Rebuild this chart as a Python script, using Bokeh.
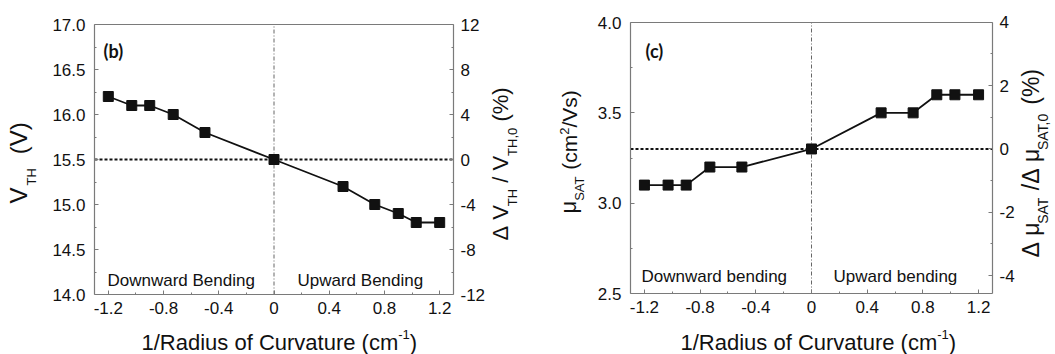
import numpy as np
from bokeh.plotting import figure
from bokeh.models import Range1d, LinearAxis, Label, FixedTicker
from bokeh.layouts import row
from bokeh.embed import file_html
from bokeh.resources import INLINE

# ---------------- data ----------------
curvature = [-1.2, -1.03, -0.9, -0.73, -0.5, 0.0, 0.5, 0.73, 0.9, 1.03, 1.2]
vth = [16.2, 16.1, 16.1, 16.0, 15.8, 15.5, 15.2, 15.0, 14.9, 14.8, 14.8]
mu_sat = [3.1, 3.1, 3.1, 3.2, 3.2, 3.3, 3.5, 3.5, 3.6, 3.6, 3.6]

vth_ref = 15.5          # V_TH,0
mu_ref = 3.3            # mu_SAT,0
dvth_per_volt = 8.0     # % of right axis per V of left axis
dmu_per_unit = 5.705    # % of right axis per cm2/Vs of left axis

x_lim = (-1.3, 1.3)
vth_lim = (14.0, 17.0)
mu_lim = (2.5, 4.0)

x_ticks = [-1.2, -0.8, -0.4, 0.0, 0.4, 0.8, 1.2]
x_tick_labels = ["-1.2", "-0.8", "-0.4", "0", "0.4", "0.8", "1.2"]
vth_ticks = [14.0, 14.5, 15.0, 15.5, 16.0, 16.5, 17.0]
vth_tick_labels = ["14.0", "14.5", "15.0", "15.5", "16.0", "16.5", "17.0"]
dvth_ticks = [-12, -8, -4, 0, 4, 8, 12]
dvth_tick_labels = ["-12", "-8", "-4", "0", "4", "8", "12"]
mu_ticks = [2.5, 3.0, 3.5, 4.0]
mu_tick_labels = ["2.5", "3.0", "3.5", "4.0"]
dmu_ticks = [-4, -2, 0, 2, 4]
dmu_tick_labels = ["-4", "-2", "0", "2", "4"]

FONT = "Liberation Sans"
AXIS_COLOR = "#7a7a7a"
INK = "#111111"
NB = "\u00a0"

# Arial / Liberation Sans advance widths (per 1000 em)
CW = {' ': 278, NB: 278, '(': 333, ')': 333, '%': 889, '/': 278, ',': 278,
      '-': 333, 'A': 667, 'S': 667, 'T': 611, 'H': 722, 'V': 667, 'R': 722,
      'C': 722, 'Δ': 612, 'μ': 576, 'c': 500, 'm': 833, 's': 500, 'a': 556,
      'd': 556, 'i': 222, 'u': 556, 'o': 556, 'f': 278, 'r': 333, 'v': 500,
      't': 278, 'e': 556}


def text_width(s, size):
    return sum(CW.get(ch, 556) for ch in s) / 1000.0 * size


def mids(v):
    v = np.asarray(v, dtype=float)
    return list((v[:-1] + v[1:]) / 2.0)


def style_axis(ax, standoff):
    ax.axis_line_color = AXIS_COLOR
    ax.axis_line_width = 1.2
    ax.major_tick_line_color = AXIS_COLOR
    ax.minor_tick_line_color = AXIS_COLOR
    ax.major_tick_in = 4
    ax.major_tick_out = 0
    ax.minor_tick_in = 2
    ax.minor_tick_out = 0
    ax.major_label_text_font = FONT
    ax.major_label_text_font_size = "17px"
    ax.major_label_text_color = INK
    ax.major_label_standoff = standoff


def make_panel(geo, y_vals, y_lim, y_ticks, y_labels, r_ticks, r_labels, ref, scale):
    """geo: canvas size and where the axes box sits on the canvas (pixels)."""
    fw, fh, L, R, T, B = geo["w"], geo["h"], geo["L"], geo["R"], geo["T"], geo["B"]
    xu = (x_lim[1] - x_lim[0]) / (R - L)
    yu = (y_lim[1] - y_lim[0]) / (B - T)
    xr = Range1d(x_lim[0] - L * xu, x_lim[0] + (fw - L) * xu)
    yr = Range1d(y_lim[1] - (fh - T) * yu, y_lim[1] + T * yu)
    geo["xr"], geo["yr"] = (xr.start, xr.end), (yr.start, yr.end)

    p = figure(width=fw, height=fh, frame_width=fw, frame_height=fh,
               x_range=xr, y_range=yr, x_axis_type=None, y_axis_type=None,
               output_backend="svg", toolbar_location=None, title=None,
               min_border=0, min_border_left=0, min_border_right=0,
               min_border_top=0, min_border_bottom=0)
    p.grid.visible = False
    p.outline_line_color = None
    p.background_fill_color = "white"
    p.border_fill_color = "white"

    pct = lambda v: (v - ref) * scale
    p.extra_y_ranges = {"pct": Range1d(pct(yr.start), pct(yr.end))}

    bottom = LinearAxis(fixed_location=y_lim[0], bounds=x_lim,
                        ticker=FixedTicker(ticks=x_ticks, minor_ticks=mids(x_ticks)))
    bottom.major_label_overrides = {t: s for t, s in zip(x_ticks, x_tick_labels)}
    style_axis(bottom, 7)
    p.add_layout(bottom, "below")

    top = LinearAxis(fixed_location=y_lim[1], bounds=x_lim,
                     ticker=FixedTicker(ticks=[], minor_ticks=[]))
    style_axis(top, 0)
    top.major_label_text_font_size = "0px"
    p.add_layout(top, "above")

    left = LinearAxis(fixed_location=x_lim[0], bounds=y_lim,
                      ticker=FixedTicker(ticks=y_ticks, minor_ticks=mids(y_ticks)))
    left.major_label_overrides = {t: s for t, s in zip(y_ticks, y_labels)}
    style_axis(left, 9)
    p.add_layout(left, "left")

    right = LinearAxis(y_range_name="pct", fixed_location=x_lim[1],
                       bounds=(pct(y_lim[0]), pct(y_lim[1])),
                       ticker=FixedTicker(ticks=r_ticks, minor_ticks=mids(r_ticks)))
    right.major_label_overrides = {t: s for t, s in zip(r_ticks, r_labels)}
    style_axis(right, 7)
    p.add_layout(right, "right")

    # reference (0 %) line and zero-curvature divider
    p.segment(x0=[x_lim[0]], y0=[ref], x1=[x_lim[1]], y1=[ref],
              line_color=INK, line_width=2, line_dash="3 2")
    p.segment(x0=[0.0], y0=[y_lim[0]], x1=[0.0], y1=[y_lim[1]],
              line_color="#666666", line_width=1, line_dash="4 2 1 2")

    p.line(curvature, y_vals, line_color=INK, line_width=1.8)
    p.scatter(curvature, y_vals, marker="square", size=10,
              fill_color=INK, line_color=INK)
    return p


# canvas geometry (pixels): left figure spans x 0..525, right figure 525..1055
geo_b = dict(w=525, h=354, L=94, R=453, T=24, B=294)
geo_c = dict(w=530, h=354, L=105, R=467, T=22, B=293)

pb = make_panel(geo_b, vth, vth_lim, vth_ticks, vth_tick_labels,
                dvth_ticks, dvth_tick_labels, vth_ref, dvth_per_volt)
pc = make_panel(geo_c, mu_sat, mu_lim, mu_ticks, mu_tick_labels,
                dmu_ticks, dmu_tick_labels, mu_ref, dmu_per_unit)


def to_data(g, X, Y):
    x0, x1 = g["xr"]
    y0, y1 = g["yr"]
    return x0 + X / g["w"] * (x1 - x0), y1 - Y / g["h"] * (y1 - y0)


def put(p, g, X, Y, text, size, angle=0.0, bold=False, font=FONT):
    x, y = to_data(g, X, Y)
    p.add_layout(Label(x=x, y=y, text=text, angle=angle,
                       text_font=font, text_font_size=f"{size}px",
                       text_font_style="bold" if bold else "normal",
                       text_color=INK, text_align="left",
                       text_baseline="alphabetic"))


def put_rich(p, g, X0, Y0, pieces, vertical=False):
    """pieces: (text, size, baseline shift up in px, extra gap after in px)"""
    adv = 0.0
    for txt, size, dy, gap in pieces:
        if vertical:
            # rotated text lands ~0.45 em right of its anchor: compensate
            put(p, g, X0 - dy - 0.45 * size, Y0 - adv, txt, size, angle=np.pi / 2)
        else:
            put(p, g, X0 + adv, Y0 - dy, txt, size)
        adv += text_width(txt, size) + gap


# ---- panel (b) texts (canvas pixels of left figure) ----
put(pb, geo_b, 103, 50, "(b)", 18, bold=True, font="Lato")
put(pb, geo_b, 107, 280, "Downward Bending", 17)
put(pb, geo_b, 297, 280, "Upward Bending", 17)
put_rich(pb, geo_b, 141, 342, [("1/Radius of Curvature (cm", 22, 0, 0),
                               ("-1", 13, 8, 0), (")", 22, 0, 0)])
put_rich(pb, geo_b, 29, 203, [("V", 24, 0, 2), ("TH", 13, -8, 14),
                              ("(V)", 24, 0, 0)], vertical=True)
put_rich(pb, geo_b, 510, 240, [("Δ" + NB + "V", 22, 0, 0), ("TH", 13, -8, 0),
                               (NB + "/" + NB + "V", 22, 0, 0),
                               ("TH,0", 13, -8, 0), (NB + "(%)", 22, 0, 0)],
         vertical=True)

# ---- panel (c) texts (canvas pixels of right figure, page x - 525) ----
put(pc, geo_c, 120, 50, "(c)", 18, bold=True, font="Lato")
put(pc, geo_c, 116, 276, "Downward bending", 17)
put(pc, geo_c, 308, 276, "Upward bending", 17)
put_rich(pc, geo_c, 155, 342, [("1/Radius of Curvature (cm", 22, 0, 0),
                               ("-1", 13, 8, 0), (")", 22, 0, 0)])
put_rich(pc, geo_c, 53, 213, [("μ", 22, 0, 0), ("SAT", 13, -7, 0),
                              (NB + "(cm", 21, 0, 0), ("2", 13, 8, 0),
                              ("/Vs)", 21, 0, 0)], vertical=True)
put_rich(pc, geo_c, 516, 257, [("Δ" + NB + "μ", 23, 0, 0), ("SAT", 14, -8, 0),
                               (NB + "/Δ" + NB + "μ", 23, 0, 0),
                               ("SAT,0", 14, -8, 0), (NB + "(%)", 23, 0, 0)],
         vertical=True)

layout = row(pb, pc)
open("out.html", "w").write(file_html(layout, INLINE))
